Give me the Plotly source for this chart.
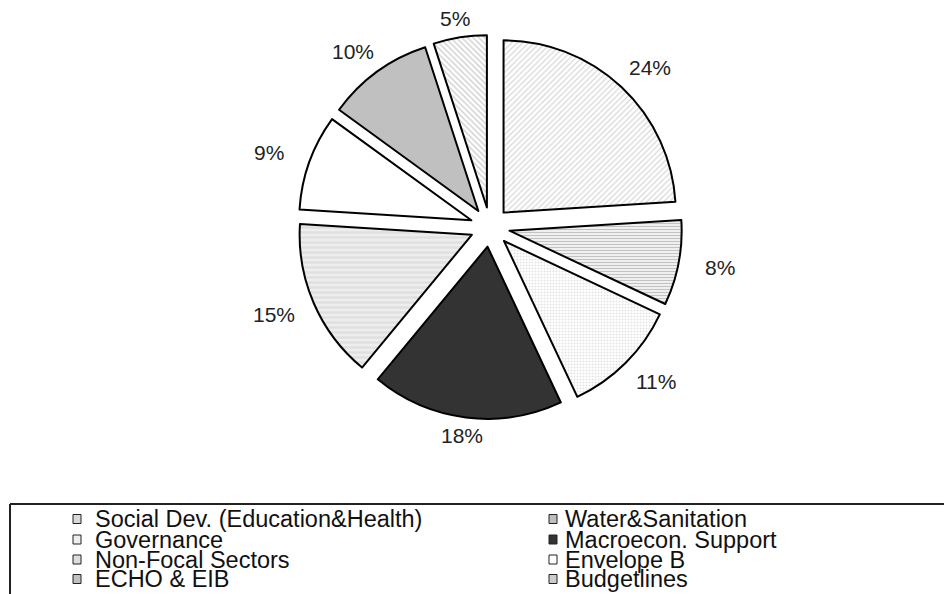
import math
import plotly.graph_objects as go

# ---- data ----
categories = ["Social Dev. (Education&Health)", "Water&Sanitation", "Governance",
              "Macroecon. Support", "Non-Focal Sectors", "Envelope B",
              "ECHO & EIB", "Budgetlines"]
shares = [24, 8, 11, 18, 15, 9, 10, 5]

# ---- styles ----
bg_colors = ["#ffffff", "#ffffff", "#ffffff", "#333333", "#eeeeee", "#ffffff", "#c0c0c0", "#ffffff"]
fg_colors = ["#b0b0b0", "#858585", "#c8c8c8", "#333333", "#d2d2d2", "#ffffff", "#c0c0c0", "#a0a0a0"]
shapes_pat = ["/", "-", ".", "", "-", "", "", "\\"]
sizes_pat = [4, 3, 3, 8, 5, 8, 8, 4]
solid_pat = [0.3, 0.5, 0.35, 0.3, 0.5, 0.3, 0.3, 0.35]
legend_fill = ["#d8d8d8", "#bdbdbd", "#eeeeee", "#333333", "#dddddd", "#ffffff", "#c0c0c0", "#cccccc"]

W, H = 944, 594
cx, cy, half = 490, 227, 192  # pie center and half size (px)
PULL = 0.115
FONT = "Liberation Sans, Arial"

fig = go.Figure()
fig.add_trace(go.Pie(
    labels=categories,
    values=shares,
    sort=False,
    direction="clockwise",
    rotation=0,
    pull=[PULL] * len(shares),
    textinfo="none",
    marker=dict(
        colors=bg_colors,
        line=dict(color="#000000", width=2),
        pattern=dict(shape=shapes_pat, fgcolor=fg_colors, bgcolor=bg_colors,
                     size=sizes_pat, solidity=solid_pat, fillmode="overlay"),
    ),
    domain=dict(x=[(cx - half) / W, (cx + half) / W],
                y=[(H - cy - half) / H, (H - cy + half) / H]),
    automargin=False,
    hoverinfo="label+percent",
))

annotations = []

# ---- percentage labels placed outside each slice, from the data's angles ----
total = sum(shares)
cum = 0.0
edge = half + 7           # distance of slice edge (incl. pull) plus a small gap
hw, hh = 20, 11           # half text box size
sx_scale, sy_scale = 1.06, 0.99  # reference pie is slightly wider than tall
for v in shares:
    mid = (cum + v / 2) / total * 2 * math.pi
    cum += v
    s, c = math.sin(mid), math.cos(mid)
    d = edge + hw * abs(s) + hh * abs(c)
    px = cx + d * s * sx_scale
    py = cy - d * c * sy_scale
    annotations.append(dict(text=f"{v}%", xref="paper", yref="paper",
                            x=px / W, y=(H - py) / H, xanchor="center", yanchor="middle",
                            showarrow=False,
                            font=dict(family=FONT, size=21, color="#222222")))

# ---- custom legend (two columns) ----
shapes = []
col_sym_x = [73, 549]
col_txt_x = [93, 563]
row_y = [519, 539.5, 559.5, 579]
for i, name in enumerate(categories):
    col = i % 2
    row = i // 2
    sx = col_sym_x[col]
    sy = row_y[row]
    shapes.append(dict(type="rect", xref="paper", yref="paper",
                       x0=sx / W, x1=(sx + 8) / W,
                       y0=(H - sy - 4.5) / H, y1=(H - sy + 4.5) / H,
                       fillcolor=legend_fill[i], line=dict(color="#222222", width=1)))
    annotations.append(dict(text=name, xref="paper", yref="paper",
                            x=col_txt_x[col] / W, y=(H - sy) / H,
                            xanchor="left", yanchor="middle", showarrow=False,
                            font=dict(family=FONT, size=23.5, color="#111111")))

# legend box border (top and left edges; box extends beyond canvas)
shapes.append(dict(type="line", xref="paper", yref="paper",
                   x0=10 / W, x1=1.0, y0=(H - 504) / H, y1=(H - 504) / H,
                   line=dict(color="#222222", width=2)))
shapes.append(dict(type="line", xref="paper", yref="paper",
                   x0=10 / W, x1=10 / W, y0=(H - 504) / H, y1=0,
                   line=dict(color="#222222", width=2)))

fig.update_layout(
    width=W, height=H,
    margin=dict(l=0, r=0, t=0, b=0),
    paper_bgcolor="white", plot_bgcolor="white",
    showlegend=False,
    shapes=shapes,
    annotations=annotations,
)

fig.write_html("out.html")
